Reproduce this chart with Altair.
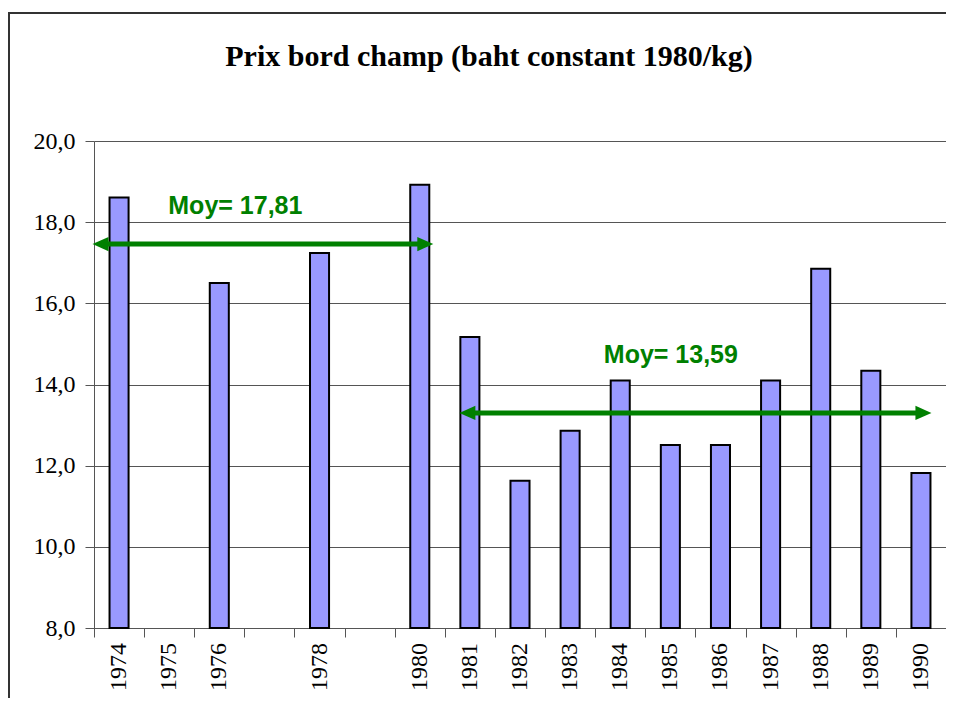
import altair as alt
import pandas as pd

# ---- data ----
categories = ["1974", "1975", "1976", "", "1978", "", "1980", "1981", "1982",
              "1983", "1984", "1985", "1986", "1987", "1988", "1989", "1990"]
bar_years = ["1974", "1976", "1978", "1980", "1981", "1982", "1983", "1984",
             "1985", "1986", "1987", "1988", "1989", "1990"]
bar_values = [18.61, 16.50, 17.24, 18.92, 15.17, 11.63, 12.86, 14.10,
              12.51, 12.51, 14.10, 16.85, 14.34, 11.82]
y_ticks = [8, 10, 12, 14, 16, 18, 20]
slot_edges = list(range(len(categories) + 1))

mean_labels = ["Moy= 17,81", "Moy= 13,59"]
mean_label_x = [2.82, 11.51]
mean_label_y = [18.20, 14.52]
arrow_start = [-0.03, 7.29]
arrow_end = [6.77, 16.71]
arrow_level = [17.46, 13.30]

TITLE = "Prix bord champ (baht constant 1980/kg)"
SERIF = "Liberation Serif"
SANS = "Liberation Sans"
GRID = "#555555"
GREEN = "#008000"
BAR_FRACTION = 0.38  # share of a category slot filled by a bar

# bar table: slot index of each year -> left/right edge within the slot
slot_of = {c: i for i, c in enumerate(categories) if c}
bar_df = pd.DataFrame({
    "year": bar_years,
    "y": bar_values,
    "x": [slot_of[y] + (1 - BAR_FRACTION) / 2 for y in bar_years],
    "x2": [slot_of[y] + (1 + BAR_FRACTION) / 2 for y in bar_years],
})
cat_df = pd.DataFrame({
    "x": [i + 0.5 for i, c in enumerate(categories) if c],
    "label": [c for c in categories if c],
})
edge_df = pd.DataFrame({"x": slot_edges})
arrow_df = pd.DataFrame({"x": arrow_start, "x2": arrow_end, "y": arrow_level})
head_df = pd.DataFrame({
    "x": arrow_start + arrow_end,
    "y": arrow_level + arrow_level,
    "dir": ["left"] * len(arrow_start) + ["right"] * len(arrow_end),
})
label_df = pd.DataFrame({"x": mean_label_x, "y": mean_label_y, "label": mean_labels})
dummy = pd.DataFrame({"a": [0]})

y_enc = alt.Y(
    "y:Q",
    scale=alt.Scale(domain=[8, 20], nice=False, zero=False),
    axis=alt.Axis(title=None, values=y_ticks, orient="left",
                  labelExpr="replace(format(datum.value, '.1f'), '.', ',')",
                  labelFont=SERIF, labelFontSize=24, labelColor="black",
                  labelPadding=10, tickSize=9, tickColor=GRID, domainColor=GRID,
                  gridColor=GRID, gridWidth=1, grid=True),
)

x_enc = alt.X(
    "x:Q",
    scale=alt.Scale(domain=[0, len(categories)], nice=False, zero=False),
    axis=alt.Axis(title=None, orient="bottom", values=slot_edges, labels=False,
                  ticks=True, tickSize=9, tickColor=GRID, tickWidth=1,
                  domainColor=GRID, domainWidth=1, grid=False),
)

bars = alt.Chart(bar_df).mark_bar(color="#9999FF", stroke="#000000", strokeWidth=2).encode(
    x=x_enc, x2="x2:Q", y=y_enc, y2=alt.datum(8),
)

cat_labels = alt.Chart(cat_df).mark_text(
    font=SERIF, fontSize=24, color="black", angle=270, align="right", baseline="middle",
    dy=0,
).encode(
    x=x_enc, y=alt.value(502), text="label:N",
)

arrows = alt.Chart(arrow_df).mark_rule(color=GREEN, strokeWidth=5, xOffset=8, x2Offset=-8).encode(
    x=x_enc, x2="x2:Q", y=y_enc,
)

heads = alt.Chart(head_df).mark_point(filled=True, size=256, opacity=1, color=GREEN).encode(
    x=x_enc, y=y_enc,
    shape=alt.Shape("dir:N", scale=alt.Scale(domain=["left", "right"],
                                             range=["M0,0L2,-0.9L2,0.9Z", "M0,0L-2,-0.9L-2,0.9Z"]),
                    legend=None),
)

labels = alt.Chart(label_df).mark_text(font=SANS, fontSize=25, fontWeight="bold", color=GREEN,
                                        align="center", baseline="alphabetic").encode(
    x=x_enc, y=y_enc, text="label:N",
)

frame_v = alt.Chart(dummy).mark_rule(color="#333333", strokeWidth=2).encode(
    x=alt.value(-85), y=alt.value(-128), y2=alt.value(700))
frame_h = alt.Chart(dummy).mark_rule(color="#333333", strokeWidth=2).encode(
    x=alt.value(-86), x2=alt.value(1000), y=alt.value(-128))

chart = alt.layer(bars, cat_labels, arrows, heads, labels, frame_v, frame_h).properties(
    width=852,
    height=487,
    background="white",
    autosize=alt.AutoSizeParams(type="none"),
    padding={"left": 86, "top": 133, "right": 0, "bottom": 70},
    title=alt.TitleParams(TITLE, font=SERIF, fontSize=30, fontWeight="bold", color="black",
                          anchor="middle", frame="group", dx=-31, baseline="alphabetic",
                          offset=-84),
).configure_view(stroke=None)

chart.save("out.html", embed_options={"renderer": "svg", "actions": False})
